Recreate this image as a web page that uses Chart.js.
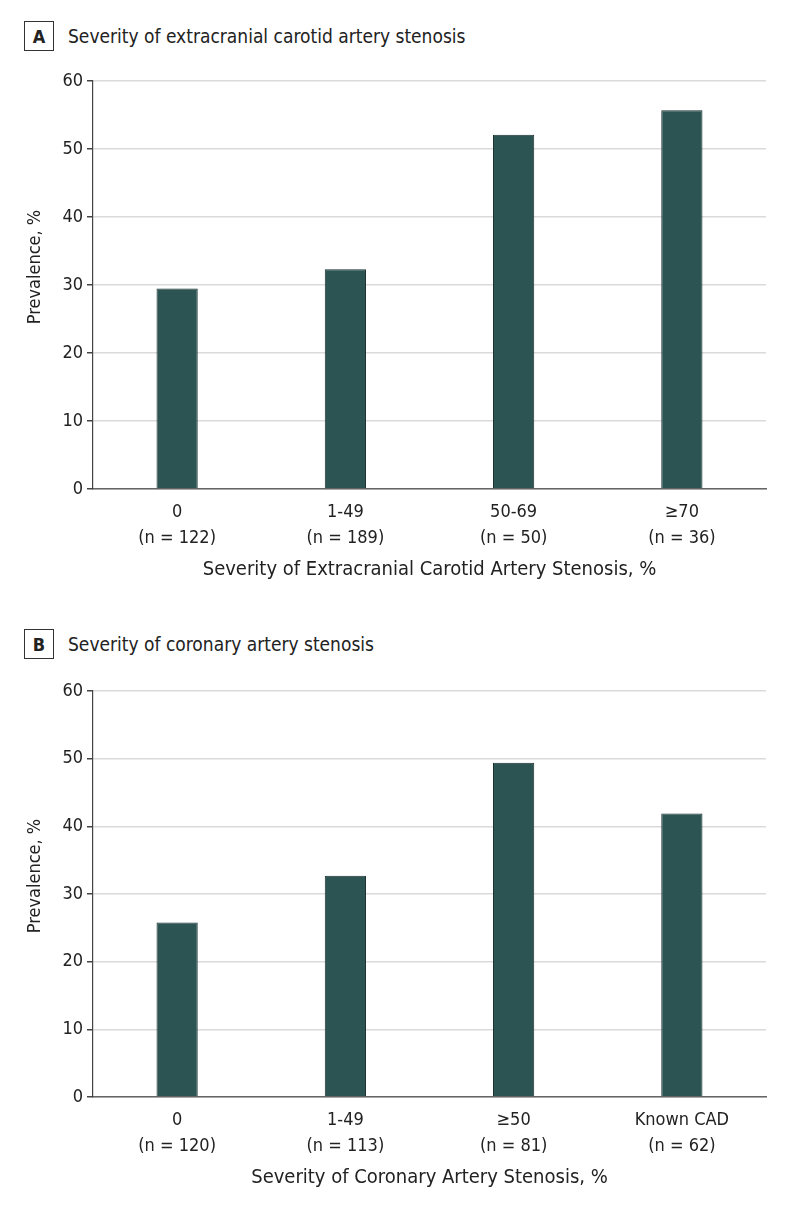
<!DOCTYPE html>
<html>
<head>
<meta charset="utf-8">
<script src="https://cdn.jsdelivr.net/npm/chart.js@4/dist/chart.umd.min.js"></script>
<style>
  body { margin: 0; background: #fff; width: 794px; height: 1207px; position: relative; overflow: hidden;
         font-family: "DejaVu Sans Condensed", "DejaVu Sans", sans-serif; color: #222; }
  .panel-title { position: absolute; left: 24px; font-size: 19px; display: flex; align-items: center; }
  .panel-title .box { width: 28px; height: 28px; border: 1.3px solid #333; font-weight: bold;
         display: flex; align-items: center; justify-content: center; margin-right: 14px; font-size: 18px; }
  .wrap { position: absolute; left: 0; width: 794px; }
</style>
</head>
<body>
<div class="panel-title" style="top:21px"><div class="box">A</div>Severity of extracranial carotid artery stenosis</div>
<div class="wrap" style="top:60px;height:522px"><canvas id="chartA"></canvas></div>
<div class="panel-title" style="top:629px"><div class="box">B</div>Severity of coronary artery stenosis</div>
<div class="wrap" style="top:670px;height:520px"><canvas id="chartB"></canvas></div>
<script>
const carotidLabels = [['0', '(n = 122)'], ['1-49', '(n = 189)'], ['50-69', '(n = 50)'], ['≥70', '(n = 36)']]
const carotidValues = [29.5, 32.3, 52.1, 55.7]
const coronaryLabels = [['0', '(n = 120)'], ['1-49', '(n = 113)'], ['≥50', '(n = 81)'], ['Known CAD', '(n = 62)']]
const coronaryValues = [25.8, 32.7, 49.4, 41.9]
const yTicks = [0, 10, 20, 30, 40, 50, 60]

const fontFamily = '"DejaVu Sans Condensed", "DejaVu Sans", sans-serif'

function makeChart(id, labels, values, xTitle) {
    new Chart(document.getElementById(id), {
        type: 'bar',
        data: {
            labels: labels,
            datasets: [{
                data: values,
                backgroundColor: '#2b5453',
                borderColor: '#1b2f2f',
                borderWidth: 1,
                barPercentage: 0.245,
                categoryPercentage: 1
            }]
        },
        options: {
            responsive: true,
            maintainAspectRatio: false,
            animation: false,
            layout: { padding: { top: 21, right: 28, left: 0, bottom: 0 } },
            plugins: { legend: { display: false }, tooltip: { enabled: false } },
            scales: {
                x: {
                    grid: { display: false, drawTicks: false },
                    border: { display: true, color: '#666', width: 1.5 },
                    ticks: { color: '#222', padding: 10, font: { family: fontFamily, size: 18, lineHeight: 1.444 } },
                    title: { display: true, text: xTitle, color: '#222', padding: 0,
                             font: { family: fontFamily, size: 20, lineHeight: 1.2 } },
                    afterFit: s => { s.height = 93 }
                },
                y: {
                    min: 0, max: 60,
                    afterBuildTicks: s => { s.ticks = yTicks.map(v => ({ value: v })) },
                    grid: { color: '#dadada', lineWidth: 1.5, tickLength: 6, tickColor: '#444' },
                    border: { display: true, color: '#444', width: 1.2 },
                    ticks: { color: '#222', padding: 4, font: { family: fontFamily, size: 18 } },
                    // leading spaces nudge the title up, as in the original
                    title: { display: true, text: '\u00a0\u00a0\u00a0\u00a0\u00a0\u00a0\u00a0Prevalence, %', color: '#222',
                             padding: { top: 25, bottom: 0 }, font: { family: fontFamily, size: 18 } },
                    afterFit: s => { s.width = 93 }
                }
            }
        }
    })
}

makeChart('chartA', carotidLabels, carotidValues, 'Severity of Extracranial Carotid Artery Stenosis, %')
makeChart('chartB', coronaryLabels, coronaryValues, 'Severity of Coronary Artery Stenosis, %')
</script>
</body>
</html>
